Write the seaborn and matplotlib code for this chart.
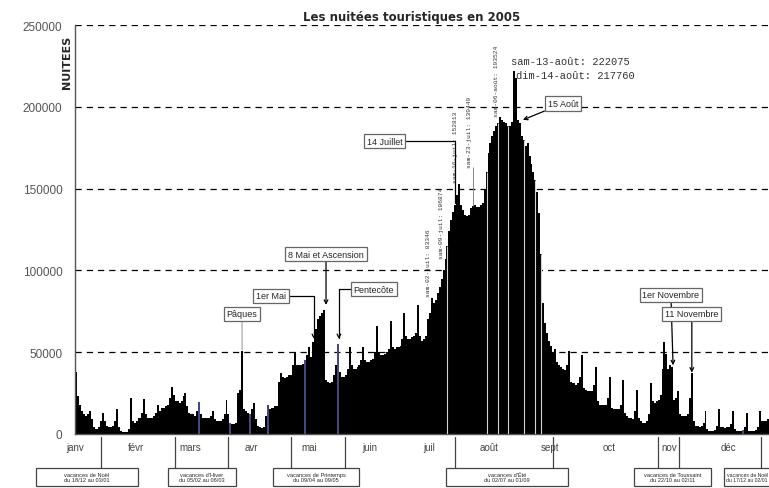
import matplotlib
matplotlib.use("Agg")
import matplotlib.pyplot as plt
import matplotlib.transforms as mtransforms
from matplotlib.patches import Rectangle
import seaborn as sns
import pandas as pd

# daily tourist nights 2005, month by month
jan = [38000, 23000, 18000, 14000, 12000, 11000, 12000, 14000, 9000, 4000, 3000, 3000, 4000, 8000, 13000, 8000,
       5000, 4500, 4500, 5000, 8000, 15500, 4000, 2000, 1500, 1500, 1500, 3000, 22000, 8000, 7000]
feb = [8000, 10000, 10000, 13000, 21500, 12000, 9500, 9500, 9500, 11000, 13000, 18000, 14000, 16000, 16000, 17000,
       18000, 22000, 29000, 24000, 20000, 20000, 19000, 20000, 23000, 25000, 17000, 13000]
mar = [12000, 12000, 11000, 14000, 19500, 12000, 10000, 10000, 9500, 10000, 11000, 14000, 9000, 8000, 8000, 8000,
       9000, 12000, 21000, 12000, 7000, 6000, 6000, 7000, 25000, 27000, 51000, 15000, 14000, 13000, 12000]
apr = [15000, 19000, 9000, 5000, 4000, 3500, 4000, 11000, 18000, 15000, 16000, 16000, 17000, 17000, 32000, 37000,
       35000, 34000, 35000, 36000, 36000, 42000, 50000, 42000, 42000, 42000, 43000, 45000, 48000, 53000]
may = [47000, 56000, 60000, 64000, 70000, 72000, 74000, 76000, 33000, 32000, 31000, 32000, 36000, 42000, 55000, 38000,
       35000, 35000, 36000, 40000, 53000, 42000, 40000, 40000, 41000, 42000, 45000, 53000, 45000, 44000, 44000]
jun = [45000, 46000, 50000, 66000, 50000, 48000, 48000, 49000, 50000, 52000, 69000, 53000, 52000, 53000, 53000, 54000,
       58000, 74000, 60000, 58000, 58000, 59000, 60000, 62000, 79000, 60000, 57000, 58000, 60000, 70000]
jul = [74000, 83346, 80000, 82000, 86000, 90000, 95000, 100000, 106874, 115000, 124000, 131000, 136000, 140000,
       146000, 152813, 140000, 137000, 134000, 133000, 134000, 138000, 139449, 140000, 139000, 139000, 140000,
       141000, 150000, 160000, 172000]
aug = [178000, 182000, 185000, 188000, 190000, 193524, 192000, 191000, 190000, 188000, 188000, 191000, 222075,
       217760, 192000, 190000, 182000, 180000, 176000, 178000, 170000, 165000, 160000, 155000, 148000, 135000,
       110000, 80000, 68000, 62000, 57000]
sep = [54000, 50000, 52000, 44000, 42000, 41000, 40000, 39000, 42000, 51000, 32000, 31000, 31000, 30000, 31000, 35000,
       48000, 28000, 27000, 26000, 26000, 26000, 30000, 41000, 20000, 18000, 18000, 18000, 18000, 22000]
oct_ = [35000, 16000, 15000, 15000, 15000, 15000, 18000, 33000, 13000, 11000, 10000, 10000, 9000, 14000, 27000, 10000,
        8000, 7000, 7000, 8000, 12000, 31000, 20000, 19000, 20000, 21000, 24000, 40000, 56000, 49000, 40000]
nov = [42000, 41000, 21000, 22000, 26000, 12000, 11000, 11000, 11000, 12000, 22000, 37000, 8000, 5000, 5000, 4500,
       5000, 7000, 14000, 3000, 2000, 2000, 2000, 2500, 5000, 15000, 4000, 4000, 3500, 4000]
dec = [4000, 6000, 14000, 3000, 2000, 2000, 2000, 2500, 4000, 13000, 2000, 2000, 2000, 2000, 2500, 4000, 14000, 8000,
       8000, 8000, 9000, 9000, 10000, 14000, 12000, 8000, 10000, 11000, 13000, 18000, 26000]

# days drawn in blue
blue_days = [63, 79, 89, 98, 117, 134, 341]

month_names = ["janv", "févr", "mars", "avr", "mai", "juin", "juil", "août", "sept", "oct", "nov", "déc"]
day_names = ["lun", "mar", "mer", "jeu", "ven", "sam", "dim"]

# days carrying a value label (rotated ones and horizontal ones)
rot_label_days = [182, 189, 196, 203, 217]
flat_label_days = [224, 225]

events = ["Pâques", "1er Mai", "8 Mai et Ascension", "Pentecôte", "14 Juillet", "15 Août",
          "1er Novembre", "11 Novembre"]
holidays = ["vacances de Noël\ndu 18/12 au 03/01", "vacances d'Hiver\ndu 05/02 au 06/03",
            "vacances de Printemps\ndu 09/04 au 09/05", "vacances d'Été\ndu 02/07 au 01/09",
            "vacances de Toussaint\ndu 22/10 au 02/11", "vacances de Noël\ndu 17/12 au 02/01"]

values = jan + feb + mar + apr + may + jun + jul + aug + sep + oct_ + nov + dec
dates = pd.date_range("2005-01-01", periods=len(values), freq="D")
df = pd.DataFrame({"day": range(len(values)), "nuitees": values, "date": dates})
df["kind"] = ["bleu" if d in blue_days else "noir" for d in df["day"]]

sns.set_style("white")
plt.rcParams["font.family"] = ["Liberation Sans", "DejaVu Sans"]

fig = plt.figure(figsize=(7.69, 4.89), dpi=100)
ax = fig.add_axes([75 / 769, 54 / 489, 713.6 / 769, 409 / 489])

sns.barplot(data=df, x="day", y="nuitees", hue="kind", dodge=False, width=1.0,
            palette={"noir": "black", "bleu": "#3b3f8c"}, linewidth=0, legend=False,
            ax=ax, zorder=2)

ax.set_xlim(-0.5, 364.5)
ax.set_ylim(0, 250000)
ax.set_xlabel("")
ax.set_ylabel("")

# y axis
ax.set_yticks(range(0, 250001, 50000))
ax.set_yticklabels([str(v) for v in range(0, 250001, 50000)], fontsize=8.5, color="#555555")
ax.yaxis.grid(True, linestyle=(0, (5, 4)), color="black", lw=0.9)
ax.xaxis.grid(False)
ax.set_axisbelow(True)

# month ticks at first day of each month
month_starts = [d - 0.5 for d in df.index[df["date"].dt.day == 1]]
ax.set_xticks(month_starts)
ax.set_xticklabels(month_names, fontsize=7, color="#444444")
ax.tick_params(axis="both", direction="out", length=3, width=0.8, color="#555555")
ax.tick_params(axis="y", pad=6)
ax.tick_params(axis="x", pad=3)

for s in ["top", "right"]:
    ax.spines[s].set_visible(False)
for s in ["left", "bottom"]:
    ax.spines[s].set_color("#555555")
    ax.spines[s].set_linewidth(1.0)

fig.text(412 / 769, 1 - 17 / 489, "Les nuitées touristiques en 2005", ha="center", va="center",
         fontsize=8.5, fontweight="bold", family="DejaVu Sans")
ax.text(-0.004, 0.975, "NUITEES", rotation=90, ha="right", va="top", transform=ax.transAxes,
        fontsize=8, fontweight="bold", family="DejaVu Sans")

# light leader lines crossing the summer bars
for d in [190, 210, 216, 221, 229, 235, 238]:
    ax.vlines(d, 0, values[d], color="#d4d4d4", lw=0.8, zorder=3)

# rotated value labels
rot_offset = [1000, 1000, 1000, 24000, 1000]
for d, off in zip(rot_label_days, rot_offset):
    dt = dates[d]
    txt = f"{day_names[dt.dayofweek]}-{dt.day:02d}-{month_names[dt.month - 1]}: {values[d]}"
    ax.text(d - 1.8, values[d] + off, txt, rotation=90, ha="center", va="bottom",
            fontsize=4.5, family="Liberation Mono", color="#333333", zorder=4)
ax.vlines(203, values[203], values[203] + 24000, color="#888888", lw=0.7, zorder=4)

flat_pos = [(222.5, 228000), (225.3, 219500)]
for d, (px, py) in zip(flat_label_days, flat_pos):
    dt = dates[d]
    txt = f"{day_names[dt.dayofweek]}-{dt.day:02d}-{month_names[dt.month - 1]}: {values[d]}"
    ax.text(px, py, txt, ha="left", va="center", fontsize=7.5, family="Liberation Mono",
            color="#333333", zorder=4)

# event boxes with arrows: (text pos, arrow tip, arrow style, connection)
box = dict(boxstyle="square,pad=0.3", fc="white", ec="#666666", lw=0.9)
straight = "arc3"
angle = "angle,angleA=0,angleB=90,rad=0"
event_layout = [
    ((84.9, 73400), (85, 51500), "-", straight, "#aaaaaa"),
    ((99.7, 84400), (121.7, 58000), "->", angle, "black"),
    ((127.9, 110000), (127.9, 78900), "->", straight, "black"),
    ((152.4, 88600), (134.5, 58000), "->", angle, "black"),
    ((158, 179000), (194, 141000), "-", angle, "black"),
    ((249, 202000), (228.6, 192000), "->", straight, "black"),
    ((304.3, 85000), (305.4, 42000), "->", straight, "black"),
    ((315, 73400), (315, 37500), "->", straight, "black"),
]
for label, (xt, xy, style, conn, col) in zip(events, event_layout):
    ax.annotate(label, xy=xy, xytext=xt, ha="center", va="center", fontsize=6.5, bbox=box,
                arrowprops=dict(arrowstyle=style, connectionstyle=conn, color=col, lw=0.9,
                                shrinkA=0, shrinkB=0), zorder=5)

# holiday boxes below the axis (last box runs past the right edge, as in the original)
trans = mtransforms.blended_transform_factory(ax.transData, ax.transAxes)
hol_boxes = [(-20.5, 31.7), (47, 81.8), (100.8, 144.8), (189.2, 251.7), (285.4, 324.8), (331.5, 359)]
hol_text_x = [5.6, 64.4, 122.8, 220.5, 305.1, 343.3]
hol_font = [4.1, 4.1, 4.1, 4.1, 4.1, 3.7]
hol_lines = [[12.8], [50.6, 78], [110, 137.6], [194, 243.8], [297.5, 308.5], [350.4]]
for label, (x0, x1), tx, fs, lines in zip(holidays, hol_boxes, hol_text_x, hol_font, hol_lines):
    ax.add_patch(Rectangle((x0, -0.127), x1 - x0, 0.044, transform=trans, clip_on=False,
                           fc="white", ec="#444444", lw=0.9))
    ax.text(tx, -0.105, label, transform=trans, ha="center", va="center",
            fontsize=fs, linespacing=1.2, clip_on=False)
    for lx in lines:
        ax.plot([lx, lx], [-0.007, -0.083], transform=trans, color="#444444", lw=0.9, clip_on=False)

fig.savefig("out.png", dpi=100)
